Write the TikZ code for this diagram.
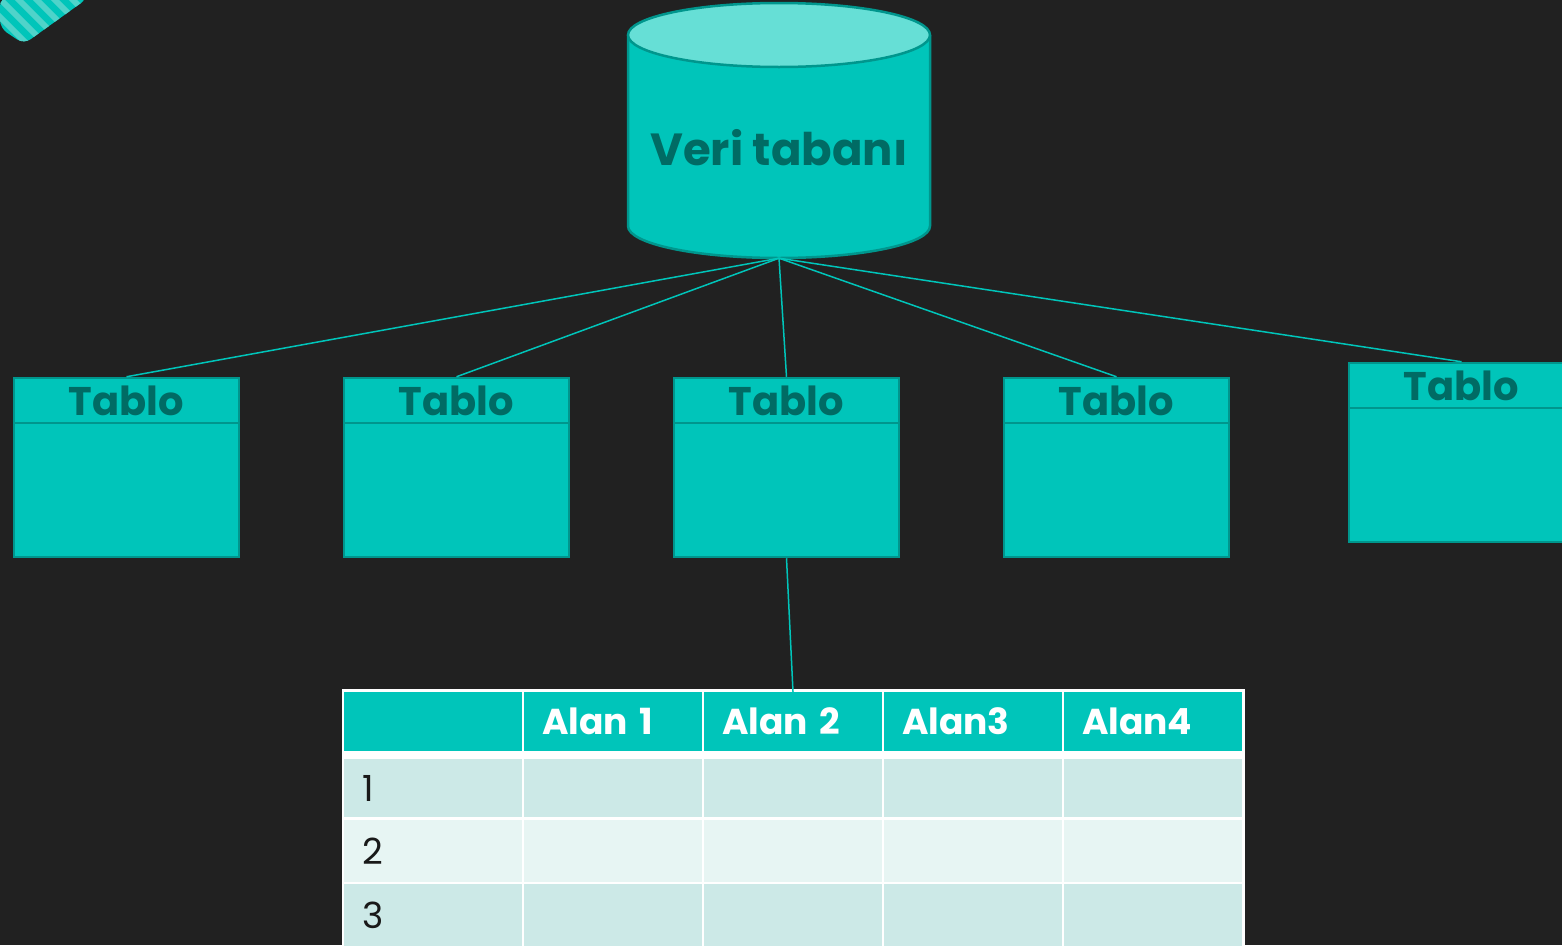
\documentclass[tikz,border=0pt]{standalone}
\usepackage{fontspec}
\setmainfont{Poppins}
\usetikzlibrary{positioning}

\definecolor{zemin}{HTML}{212121}
\definecolor{turkuaz}{HTML}{00C5BA}
\definecolor{acikturkuaz}{HTML}{66DFD6}
\definecolor{koyuturkuaz}{HTML}{00968D}
\definecolor{koyuyazi}{HTML}{006B64}
\definecolor{satirA}{HTML}{CCE9E7}
\definecolor{satirB}{HTML}{E7F5F3}
\definecolor{serit}{HTML}{4FD3CA}

\begin{document}
\begin{tikzpicture}[x=1pt, y=-1pt,
  tablo/.style={rectangle, draw=koyuturkuaz, line width=2.5pt, fill=turkuaz,
                minimum width=225pt, minimum height=179pt, inner sep=0pt},
  baslik/.style={rectangle, draw=koyuturkuaz, line width=2.5pt, fill=turkuaz,
                 minimum width=225pt, minimum height=45pt, inner sep=0pt,
                 text=koyuyazi, font=\fontsize{40}{40}\selectfont\bfseries},
  baglanti/.style={draw=turkuaz, line width=1.5pt},
  hucre/.style={rectangle, inner xsep=18pt, inner ysep=0pt, text width=142pt,
                minimum height=#1, align=left},
  ustbaslik/.style={hucre=59pt, fill=turkuaz, text=white,
                    font=\fontsize{36}{36}\selectfont\bfseries},
  numara/.style={font=\fontsize{36}{36}\selectfont, text=black!90},
]
  % zemin
  \useasboundingbox (0,0) rectangle (1562,945);
  \clip (0,0) rectangle (1562,945);
  \fill[zemin] (0,0) rectangle (1562,945);

  % sol ust kose susu
  \begin{scope}
    \clip[rounded corners=8pt] (0,-2) -- (88,-2) -- (24,44) -- (0,28) -- cycle;
    \fill[turkuaz] (0,-2) rectangle (90,50);
    \foreach \s in {-40,-22,...,80}
      \draw[serit, line width=6pt] (\s,-5) -- ++(55,55);
  \end{scope}

  % veri tabani silindiri
  \node[minimum width=302pt, minimum height=255pt, inner sep=0pt]
        (db) at (779,130.5) {};
  \filldraw[fill=turkuaz, draw=koyuturkuaz, line width=2.5pt]
    (628,35) -- (628,226)
    arc[start angle=180, end angle=360, x radius=151pt, y radius=32pt]
    -- (930,35);
  \filldraw[fill=acikturkuaz, draw=koyuturkuaz, line width=2.5pt]
    (779,35) ellipse[x radius=151pt, y radius=32pt];
  \node[text=koyuyazi, font=\fontsize{45}{45}\selectfont\bfseries]
    (dbyazi) at ([yshift=-17pt]db.center) {Veri tabanı};

  % tablolar
  \node[tablo] (t1) at (126.5,467.5) {};
  \node[tablo, right=102.5pt of t1] (t2) {};
  \node[tablo, right=102.5pt of t2] (t3) {};
  \node[tablo, right=102.5pt of t3] (t4) {};
  \node[tablo, right=117.5pt of t4, yshift=15pt] (t5) {};
  \foreach \i in {1,...,5}
    \node[baslik, anchor=north] (b\i) at (t\i.north) {Tablo};

  \foreach \i in {1,...,5}
    \draw[baglanti] (db.south) -- (b\i.north);

  % alanlar tablosu
  \fill[white] (342,689) rectangle (1245,950);
  \foreach \k/\t in {0/{},1/Alan 1,2/Alan 2,3/Alan3,4/Alan4}
    \node[ustbaslik] (a\k) at (433+180*\k,721.5) {\t};
  \foreach \r/\y/\h/\renk in {1/788/58/satirA,2/851/62/satirB,3/915/62/satirA} {
    \node[hucre=\h pt, fill=\renk, numara] (c\r0) at (433,\y) {\r};
    \foreach \k in {1,...,4}
      \node[hucre=\h pt, fill=\renk] (c\r\k) at (433+180*\k,\y) {};
  }

  \draw[baglanti] (t3.south) -- (a2.north);
\end{tikzpicture}
\end{document}
